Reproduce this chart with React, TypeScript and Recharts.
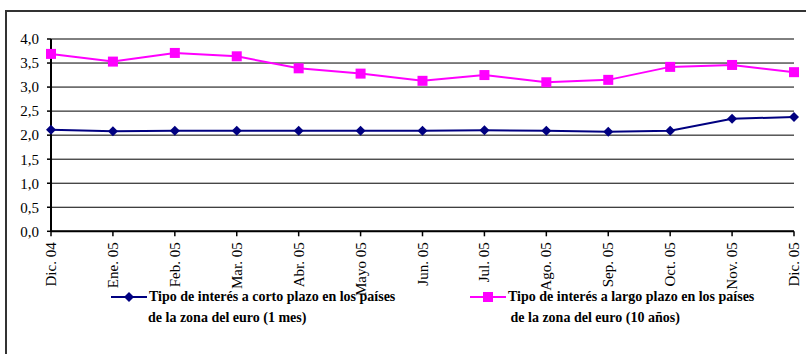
import React from 'react'
import { LineChart, Line, XAxis, YAxis, CartesianGrid } from 'recharts'

const months = ['Dic. 04', 'Ene. 05', 'Feb. 05', 'Mar. 05', 'Abr. 05', 'Mayo 05', 'Jun. 05', 'Jul. 05', 'Ago. 05', 'Sep. 05', 'Oct. 05', 'Nov. 05', 'Dic. 05']
const shortRate = [2.11, 2.08, 2.09, 2.09, 2.09, 2.09, 2.09, 2.1, 2.09, 2.07, 2.09, 2.34, 2.38]
const longRate = [3.69, 3.53, 3.71, 3.64, 3.39, 3.28, 3.13, 3.25, 3.1, 3.15, 3.42, 3.46, 3.31]
const yTicks = [0, 0.5, 1, 1.5, 2, 2.5, 3, 3.5, 4]
const shortLabel = ['Tipo de interés a corto plazo en los países', 'de la zona del euro (1 mes)']
const longLabel = ['Tipo de interés a largo plazo en los países', ' de la zona del euro (10 años)']

const data = months.map((m, i) => ({ month: m, short: shortRate[i], long: longRate[i] }))

const font = '"Liberation Serif", "Times New Roman", serif'
const NAVY = '#000080'
const MAGENTA = '#ff00ff'

const XTick = (props: any) => {
  const { x, y, payload } = props
  return (
    <text
      transform={`translate(${x},${y + 4}) rotate(-90)`}
      textAnchor="end"
      dominantBaseline="central"
      fontFamily={font}
      fontSize={15}
      fill="#000"
    >
      {payload.value}
    </text>
  )
}

const Diamond = (props: any) => {
  const { cx, cy } = props
  if (cx == null || cy == null) return null
  return <polygon points={`${cx},${cy - 5} ${cx + 5},${cy} ${cx},${cy + 5} ${cx - 5},${cy}`} fill={NAVY} />
}

const Square = (props: any) => {
  const { cx, cy } = props
  if (cx == null || cy == null) return null
  return <rect x={cx - 5} y={cy - 5} width={10} height={10} fill={MAGENTA} />
}

const LegendItem = ({ left, color, marker, lines }: any) => (
  <div style={{ position: 'absolute', left, top: 289, fontFamily: font, fontWeight: 'bold', fontSize: 14 }}>
    <svg width={38} height={16} style={{ position: 'absolute', left: 0, top: 0 }}>
      <line x1={1} y1={8} x2={37} y2={8} stroke={color} strokeWidth={2} />
      {marker === 'diamond'
        ? <polygon points="19,3 24,8 19,13 14,8" fill={color} />
        : <rect x={14} y={3} width={10} height={10} fill={color} />}
    </svg>
    <div style={{ position: 'absolute', left: 39, top: 0, whiteSpace: 'pre', lineHeight: '16px' }}>{lines[0]}</div>
    <div style={{ position: 'absolute', left: 38, top: 21, whiteSpace: 'pre', lineHeight: '16px' }}>{lines[1]}</div>
  </div>
)

export default function App() {
  return (
    <div style={{ position: 'absolute', left: 0, top: 0, width: 806, height: 354, overflow: 'hidden', background: '#fff' }}>
      <div style={{ position: 'absolute', left: 5, top: 10, width: 840, height: 400, border: '2px solid #333' }} />
      <LineChart width={806} height={354} data={data} margin={{ top: 39, right: 12, left: 6, bottom: 0 }} style={{ position: 'absolute', left: 0, top: 0 }}>
        <CartesianGrid horizontal vertical={false} stroke="#000" strokeWidth={1} />
        <XAxis
          dataKey="month"
          height={122.7}
          interval={0}
          tick={<XTick />}
          tickLine={{ stroke: '#000', strokeWidth: 1.5 }}
          tickSize={5}
          axisLine={{ stroke: '#000', strokeWidth: 2 }}
        />
        <YAxis
          domain={[0, 4]}
          ticks={yTicks}
          width={45}
          tickFormatter={(v: number) => v.toFixed(1).replace('.', ',')}
          tick={{ fontFamily: font, fontSize: 15, fill: '#000' }}
          tickLine={{ stroke: '#000', strokeWidth: 1.5 }}
          tickSize={4}
          tickMargin={8}
          axisLine={{ stroke: '#000', strokeWidth: 2 }}
        />
        <YAxis yAxisId="r" orientation="right" width={0} domain={[0, 4]} tick={false} tickLine={false} axisLine={{ stroke: '#000', strokeWidth: 2 }} />
        <Line dataKey="short" stroke={NAVY} strokeWidth={2} dot={<Diamond />} activeDot={false} isAnimationActive={false} />
        <Line dataKey="long" stroke={MAGENTA} strokeWidth={2} dot={<Square />} activeDot={false} isAnimationActive={false} />
      </LineChart>
      <LegendItem left={110} color={NAVY} marker="diamond" lines={shortLabel} />
      <LegendItem left={469} color={MAGENTA} marker="square" lines={longLabel} />
    </div>
  )
}
